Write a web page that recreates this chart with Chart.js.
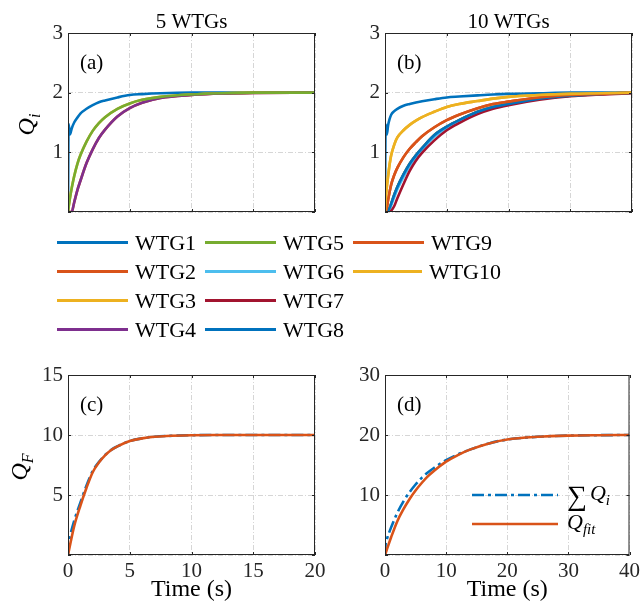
<!DOCTYPE html>
<html>
<head>
<meta charset="utf-8">
<script src="https://cdn.jsdelivr.net/npm/chart.js@4.4.1/dist/chart.umd.min.js"></script>
<style>
    body { margin: 0; background: #fff; }
    #wrap { position: relative; width: 644px; height: 613px; }
    canvas { position: absolute; left: 0; top: 0; }
    #legend {
        position: absolute; left: 57px; top: 228px;
        display: grid; grid-template-rows: repeat(4, 29px);
        grid-auto-flow: column; grid-auto-columns: 148px;
        font-family: 'Liberation Serif', 'Times New Roman', serif;
        font-size: 22px; color: #000;
    }
    .item { display: flex; align-items: center; }
    .swatch { width: 71px; height: 3px; margin-right: 7px; }
</style>
</head>
<body>
<div id="wrap">
    <canvas id="chartA" width="644" height="613"></canvas>
    <canvas id="chartB" width="644" height="613"></canvas>
    <canvas id="chartC" width="644" height="613"></canvas>
    <canvas id="chartD" width="644" height="613"></canvas>
    <div id="legend"></div>
</div>
<script>
const names = ['WTG1', 'WTG2', 'WTG3', 'WTG4', 'WTG5', 'WTG6', 'WTG7', 'WTG8', 'WTG9', 'WTG10'];
const colors = ['#0072BD', '#D95319', '#EDB120', '#7E2F8E', '#77AC30', '#4DBEEE', '#A2142F', '#0072BD', '#D95319', '#EDB120'];

// (a) 5 WTGs, time in s
const timeA = [0, 0.05, 0.15, 0.3, 0.5, 0.75, 1, 1.5, 2, 2.5, 3, 4, 5, 6, 7.5, 10, 12.5, 15, 20];
const a_wtg1 = [0, 1.48, 1.30, 1.40, 1.50, 1.58, 1.65, 1.73, 1.79, 1.84, 1.87, 1.92, 1.96, 1.975, 1.99, 2, 2, 2, 2];
const a_wtg2 = [0, 0, 0, 0, 0.16, 0.36, 0.52, 0.82, 1.05, 1.24, 1.38, 1.6, 1.74, 1.83, 1.91, 1.96, 1.985, 1.995, 2];
const a_wtg3 = [0, 0.08, 0.22, 0.4, 0.6, 0.8, 0.95, 1.18, 1.36, 1.49, 1.59, 1.73, 1.82, 1.88, 1.93, 1.97, 1.99, 2, 2];
const a_wtg4 = [0, 0, 0, 0, 0.16, 0.36, 0.52, 0.82, 1.05, 1.24, 1.38, 1.6, 1.74, 1.83, 1.91, 1.96, 1.985, 1.995, 2];
const a_wtg5 = [0, 0.08, 0.22, 0.4, 0.6, 0.8, 0.95, 1.18, 1.36, 1.49, 1.59, 1.73, 1.82, 1.88, 1.93, 1.97, 1.99, 2, 2];

// (b) 10 WTGs
const timeB = [0, 0.1, 0.3, 0.5, 0.75, 1, 1.5, 2, 3, 4, 5, 6, 8, 10, 12, 15, 17.5, 20, 25, 30, 35, 40];
const b_wtg1 = [0, 1.47, 1.30, 1.45, 1.56, 1.63, 1.69, 1.73, 1.78, 1.81, 1.835, 1.855, 1.89, 1.92, 1.935, 1.955, 1.97, 1.98, 1.99, 2, 2, 2];
const b_wtg2 = [0, 0, 0.07, 0.2, 0.34, 0.46, 0.62, 0.74, 0.92, 1.06, 1.17, 1.27, 1.42, 1.54, 1.63, 1.74, 1.81, 1.85, 1.92, 1.96, 1.98, 2];
const b_wtg3 = [0, 0.2, 0.42, 0.6, 0.8, 0.95, 1.13, 1.25, 1.37, 1.46, 1.53, 1.59, 1.68, 1.76, 1.81, 1.86, 1.9, 1.93, 1.96, 1.98, 1.99, 2];
const b_wtg4 = [0, 0, 0, 0.02, 0.07, 0.14, 0.29, 0.42, 0.63, 0.81, 0.95, 1.07, 1.29, 1.43, 1.54, 1.68, 1.76, 1.81, 1.9, 1.95, 1.98, 2];
const b_wtg5 = [0, 0, 0, 0.02, 0.07, 0.14, 0.29, 0.42, 0.63, 0.81, 0.95, 1.07, 1.29, 1.43, 1.54, 1.68, 1.76, 1.81, 1.9, 1.95, 1.98, 2];
const b_wtg6 = [0, 0, 0, 0.01, 0.05, 0.11, 0.25, 0.38, 0.59, 0.77, 0.92, 1.04, 1.26, 1.41, 1.52, 1.67, 1.75, 1.8, 1.9, 1.95, 1.98, 2];
const b_wtg7 = [0, 0, 0, 0, 0, 0.02, 0.1, 0.23, 0.47, 0.69, 0.86, 0.99, 1.2, 1.37, 1.49, 1.64, 1.73, 1.79, 1.88, 1.94, 1.97, 1.99];
const b_wtg8 = [0, 0, 0, 0.02, 0.07, 0.14, 0.29, 0.42, 0.63, 0.81, 0.95, 1.07, 1.29, 1.43, 1.54, 1.68, 1.76, 1.81, 1.9, 1.95, 1.98, 2];
const b_wtg9 = [0, 0, 0.07, 0.2, 0.34, 0.46, 0.62, 0.74, 0.92, 1.06, 1.17, 1.27, 1.42, 1.54, 1.63, 1.74, 1.81, 1.85, 1.92, 1.96, 1.98, 2];
const b_wtg10 = [0, 0.2, 0.42, 0.6, 0.8, 0.95, 1.13, 1.25, 1.37, 1.46, 1.53, 1.59, 1.68, 1.76, 1.81, 1.86, 1.9, 1.93, 1.96, 1.98, 1.99, 2];

// (c) sum vs fit, 5 WTGs
const timeC = [0, 0.05, 0.2, 0.5, 1, 1.5, 2, 2.5, 3, 3.5, 4, 5, 6, 7, 8, 10, 12, 15, 20];
const c_sum = [0, 0.9, 1.7, 2.85, 4.35, 5.8, 7.0, 7.75, 8.33, 8.76, 9.05, 9.5, 9.72, 9.85, 9.92, 9.98, 10, 10, 10];
const c_fit = [0, 0.25, 1.0, 2.4, 4.1, 5.6, 6.9, 7.7, 8.3, 8.75, 9.05, 9.5, 9.72, 9.85, 9.92, 9.98, 10, 10, 10];

// (d) sum vs fit, 10 WTGs
const timeD = [0, 0.1, 0.3, 1, 2, 3, 4, 5, 6, 7, 8, 10, 12, 14, 17, 20, 25, 30, 35, 40];
const d_sum = [0, 1.8, 2.6, 4.6, 7.0, 8.9, 10.45, 11.75, 12.85, 13.75, 14.5, 15.8, 16.8, 17.6, 18.6, 19.25, 19.7, 19.9, 19.97, 20];
const d_fit = [0, 0.3, 0.9, 2.95, 5.6, 7.6, 9.3, 10.75, 12.0, 13.1, 14.0, 15.55, 16.7, 17.6, 18.6, 19.25, 19.7, 19.9, 19.97, 20];

const serif = "'Liberation Serif', 'Times New Roman', serif";
Chart.defaults.font.family = serif;
Chart.defaults.color = '#262626';

function series(t, ys, color, order, dash) {
    return {
        data: t.map((x, k) => ({x: x, y: ys[k]})),
        borderColor: color,
        borderWidth: 2.6,
        borderDash: dash || [],
        pointRadius: 0,
        fill: false,
        cubicInterpolationMode: 'monotone',
        order: order
    };
}

function makeScales(xMax, xStep, yMax, yStep, showX) {
    let grid = {color: '#d6d6d6', lineWidth: 1, drawTicks: false};
    let border = {display: false, dash: [5, 2, 1, 2]};
    return {
        x: {
            type: 'linear', min: 0, max: xMax,
            ticks: {stepSize: xStep, display: showX, padding: 4, font: {size: 21}, color: '#262626', maxRotation: 0},
            grid: grid, border: border,
            afterFit: s => { s.height = showX ? 30 : 0; }
        },
        y: {
            min: 0, max: yMax,
            ticks: {stepSize: yStep, padding: 5, font: {size: 21}, color: '#262626', callback: v => v === 0 ? '' : v},
            grid: grid, border: border,
            afterFit: s => { s.width = 40; }
        }
    };
}

function subText(ctx, x, y, main, sub, size, subSize, drop) {
    ctx.font = 'italic ' + size + 'px ' + serif;
    let w1 = ctx.measureText(main).width;
    ctx.fillText(main, x, y);
    ctx.font = 'italic ' + subSize + 'px ' + serif;
    ctx.fillText(sub, x + w1, y + drop);
    return w1 + ctx.measureText(sub).width;
}

const panelPlugin = {
    id: 'panel',
    afterDraw(chart, args, opts) {
        let ctx = chart.ctx;
        let a = chart.chartArea;
        let sx = chart.scales.x, sy = chart.scales.y;
        ctx.save();
        ctx.strokeStyle = '#262626';
        ctx.lineWidth = 1;
        ctx.strokeRect(a.left + 0.5, a.top + 0.5, a.right - a.left - 1, a.bottom - a.top - 1);
        ctx.beginPath();
        sx.ticks.forEach(t => {
            let p = Math.round(sx.getPixelForValue(t.value)) + 0.5;
            ctx.moveTo(p, a.bottom); ctx.lineTo(p, a.bottom - 3);
            ctx.moveTo(p, a.top); ctx.lineTo(p, a.top + 3);
        });
        sy.ticks.forEach(t => {
            let p = Math.round(sy.getPixelForValue(t.value)) + 0.5;
            ctx.moveTo(a.left, p); ctx.lineTo(a.left + 3, p);
            ctx.moveTo(a.right, p); ctx.lineTo(a.right - 3, p);
        });
        ctx.stroke();

        ctx.fillStyle = '#000';
        let cx = (a.left + a.right) / 2;
        ctx.textBaseline = 'alphabetic';
        if (opts.title) {
            ctx.font = '21px ' + serif;
            ctx.textAlign = 'center';
            ctx.fillText(opts.title, cx, 28);
        }
        ctx.font = '21px ' + serif;
        ctx.textAlign = 'left';
        ctx.fillText(opts.letter, a.left + 12, a.top + 36);
        if (opts.xlabel) {
            ctx.font = '24px ' + serif;
            ctx.textAlign = 'center';
            ctx.fillText(opts.xlabel, cx, 596);
        }
        if (opts.ylabel) {
            ctx.save();
            ctx.translate(opts.ylabelX, (a.top + a.bottom) / 2 + 2);
            ctx.rotate(-Math.PI / 2);
            ctx.textAlign = 'left';
            ctx.font = 'italic 24px ' + serif;
            let w1 = ctx.measureText(opts.ylabel[0]).width;
            ctx.font = 'italic 16px ' + serif;
            let w2 = ctx.measureText(opts.ylabel[1]).width;
            subText(ctx, -(w1 + w2) / 2, 0, opts.ylabel[0], opts.ylabel[1], 24, 16, 6);
            ctx.restore();
        }
        if (opts.legend) {
            let ds = chart.data.datasets;
            let rows = [495, 524];
            opts.legend.forEach((lab, i) => {
                let d = ds[i];
                ctx.beginPath();
                ctx.strokeStyle = d.borderColor;
                ctx.lineWidth = 2.6;
                ctx.setLineDash(d.borderDash);
                ctx.moveTo(472, rows[i]);
                ctx.lineTo(558, rows[i]);
                ctx.stroke();
                ctx.setLineDash([]);
                let x = 567;
                ctx.textAlign = 'left';
                if (lab[0]) {
                    ctx.font = '28px ' + serif;
                    ctx.fillText(lab[0], x, rows[i] + 10);
                    x += ctx.measureText(lab[0]).width + 3;
                }
                subText(ctx, x, rows[i] + 5, lab[1], lab[2], 22, 15, 5);
            });
        }
        ctx.restore();
    }
};

function makeChart(id, datasets, scales, padding, panel) {
    return new Chart(document.getElementById(id), {
        type: 'line',
        data: {datasets: datasets},
        options: {
            responsive: false,
            animation: false,
            devicePixelRatio: 1,
            layout: {padding: padding},
            scales: scales,
            plugins: {legend: {display: false}, tooltip: {enabled: false}, panel: panel}
        },
        plugins: [panelPlugin]
    });
}

const aValues = [a_wtg1, a_wtg2, a_wtg3, a_wtg4, a_wtg5];
const bValues = [b_wtg1, b_wtg2, b_wtg3, b_wtg4, b_wtg5, b_wtg6, b_wtg7, b_wtg8, b_wtg9, b_wtg10];

makeChart('chartA',
    aValues.map((v, i) => series(timeA, v, colors[i], 10 - i)),
    makeScales(20, 5, 3, 1, false),
    {left: 28, right: 329, top: 33, bottom: 401},
    {title: '5 WTGs', letter: '(a)', ylabel: ['Q', 'i'], ylabelX: 34});

makeChart('chartB',
    bValues.map((v, i) => series(timeB, v, colors[i], 10 - i)),
    makeScales(40, 10, 3, 1, false),
    {left: 345, right: 12, top: 33, bottom: 401},
    {title: '10 WTGs', letter: '(b)'});

makeChart('chartC',
    [series(timeC, c_sum, '#0072BD', 2, [12, 4, 3, 4]), series(timeC, c_fit, '#D95319', 1)],
    makeScales(20, 5, 15, 5, true),
    {left: 28, right: 329, top: 375, bottom: 28},
    {letter: '(c)', ylabel: ['Q', 'F'], ylabelX: 27, xlabel: 'Time (s)'});

makeChart('chartD',
    [series(timeD, d_sum, '#0072BD', 2, [12, 4, 3, 4]), series(timeD, d_fit, '#D95319', 1)],
    makeScales(40, 10, 30, 10, true),
    {left: 345, right: 12, top: 375, bottom: 28},
    {letter: '(d)', xlabel: 'Time (s)', legend: [['\u2211', 'Q', 'i'], ['', 'Q', 'fit']]});

let legend = document.getElementById('legend');
names.forEach((n, i) => {
    legend.innerHTML += `<div class="item"><span class="swatch" style="background:${colors[i]}"></span>${n}</div>`;
});
</script>
</body>
</html>
